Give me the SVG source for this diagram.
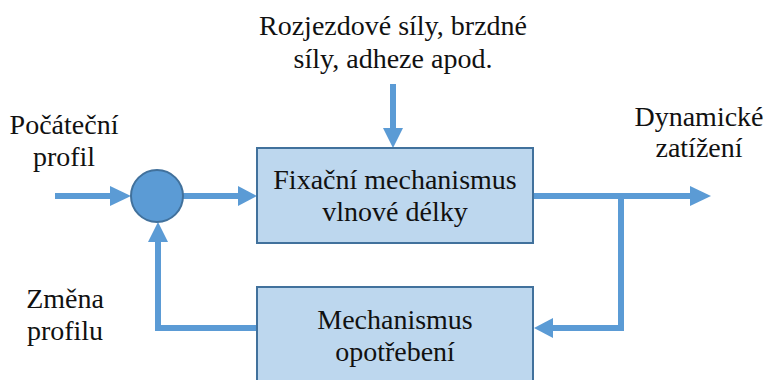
<svg xmlns="http://www.w3.org/2000/svg" width="767" height="380" viewBox="0 0 767 380">
<style>
text{font-family:'Liberation Serif','Times New Roman','DejaVu Serif',serif;font-size:28px;fill:#111;text-anchor:middle}
.box{fill:#BDD7EE;stroke:#41719C;stroke-width:2}
.ln{fill:none;stroke:#5B9BD5;stroke-width:6}
.hd{fill:#5B9BD5}
</style>
<rect width="767" height="380" fill="#fff"/>
<g id="connectors">
<line class="ln" x1="55" y1="196" x2="112" y2="196"/>
<polygon class="hd" points="110,186 131,196 110,206"/>
<line class="ln" x1="183" y1="196" x2="240" y2="196"/>
<polygon class="hd" points="238,186 257,196 238,206"/>
<line class="ln" x1="393" y1="84" x2="393" y2="130"/>
<polygon class="hd" points="383,128 393,148 403,128"/>
<line class="ln" x1="533" y1="196" x2="692" y2="196"/>
<polygon class="hd" points="690,186 711,196 690,206"/>
<polyline class="ln" points="621,196 621,328 551,328"/>
<polygon class="hd" points="553,318 534,328 553,338"/>
<polyline class="ln" points="257,328 158,328 158,240"/>
<polygon class="hd" points="148,242 158,222 168,242"/>
</g>
<g id="sum">
<circle cx="157" cy="196" r="26" fill="#5B9BD5" stroke="#41719C" stroke-width="2"/>
</g>
<g id="fix">
<rect class="box" x="257" y="148" width="276" height="95"/>
<text x="395" y="189">Fixační mechanismus</text>
<text x="395" y="221">vlnové délky</text>
</g>
<g id="wear">
<rect class="box" x="257" y="287" width="276" height="110"/>
<text x="395" y="329">Mechanismus</text>
<text x="395" y="361">opotřebení</text>
</g>
<g id="labels">
<text x="393" y="35">Rozjezdové síly, brzdné</text>
<text x="393" y="68">síly, adheze apod.</text>
<text x="64" y="134">Počáteční</text>
<text x="64" y="166">profil</text>
<text x="699" y="126">Dynamické</text>
<text x="699" y="157">zatížení</text>
<text x="65" y="308">Změna</text>
<text x="65" y="340">profilu</text>
</g>
</svg>
